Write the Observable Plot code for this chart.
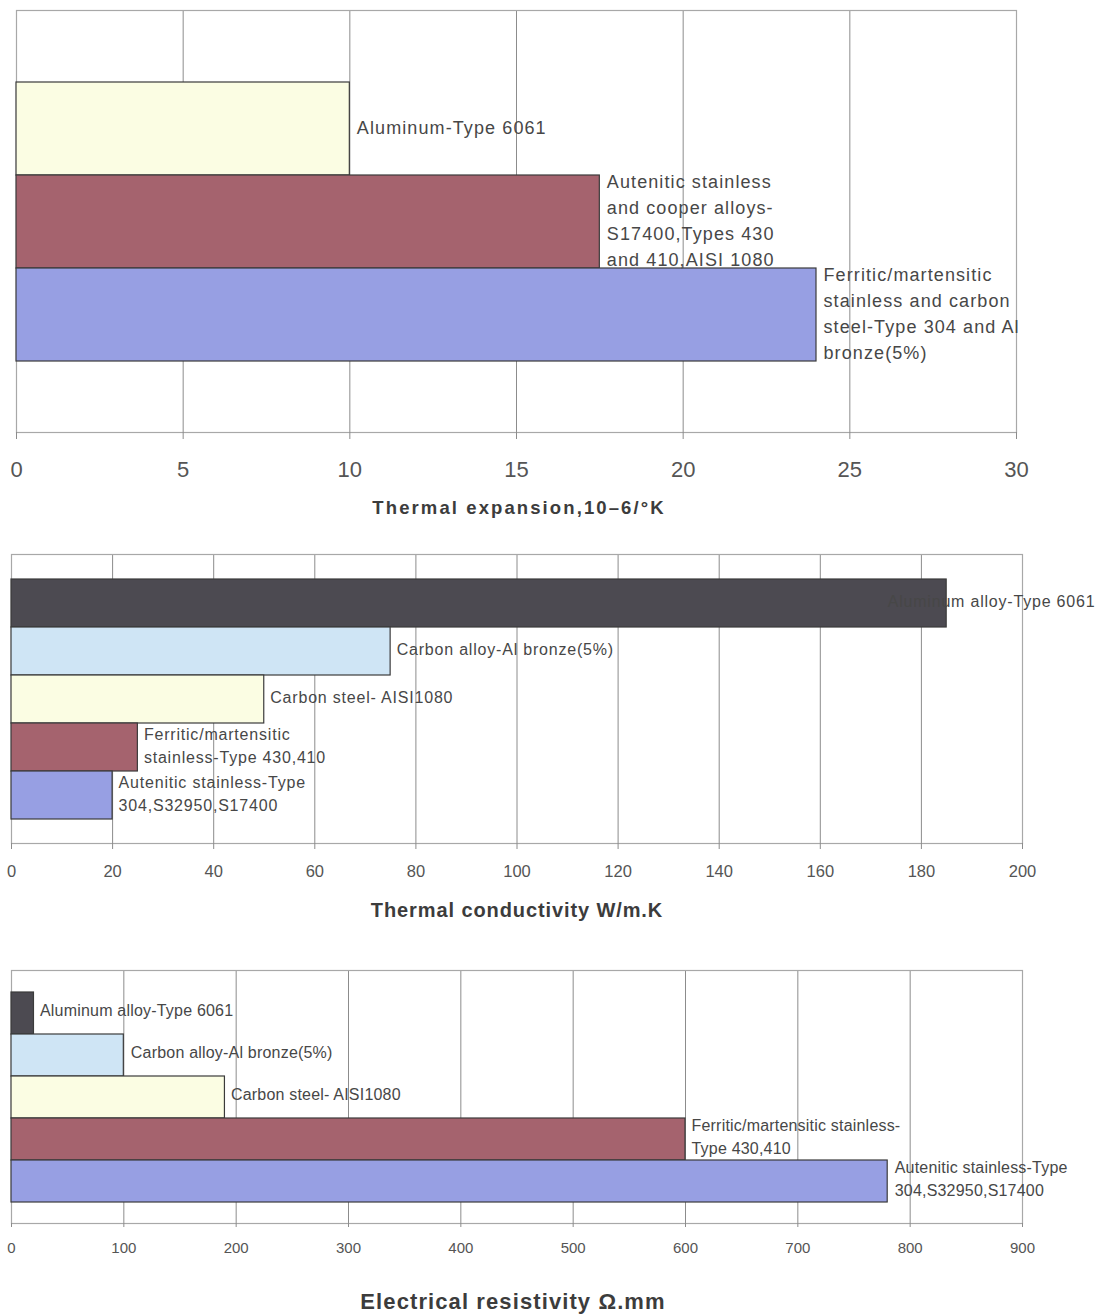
<!DOCTYPE html>
<html>
<head>
<meta charset="utf-8">
<script src="https://cdn.jsdelivr.net/npm/d3@7"></script>
<script src="https://cdn.jsdelivr.net/npm/@observablehq/plot@0.6"></script>
<style>
  html, body { margin: 0; padding: 0; background: #fff; }
  #page { position: relative; width: 1120px; height: 1314px; overflow: hidden; font-family: "Liberation Sans", Arial, sans-serif; }
  .panel { position: absolute; left: 0; }
  .axis-title { position: absolute; transform: translate(-50%, -50%); white-space: nowrap; font-weight: bold; color: #3c3c3c; }
  #c1 g[aria-label="text"] text { letter-spacing: 1.1px; }
  #c2 g[aria-label="text"] text { letter-spacing: 0.8px; }
  #c3 g[aria-label="text"] text { letter-spacing: 0.2px; }
</style>
</head>
<body>
<div id="page">
  <div class="panel" id="c1" style="top:0px"></div>
  <div class="axis-title" style="left:519px; top:508px; font-size:18.5px; letter-spacing:2.1px;">Thermal expansion,10–6/°K</div>
  <div class="panel" id="c2" style="top:520px"></div>
  <div class="axis-title" style="left:517px; top:910px; font-size:20px; letter-spacing:0.9px;">Thermal conductivity W/m.K</div>
  <div class="panel" id="c3" style="top:940px"></div>
  <div class="axis-title" style="left:513px; top:1302px; font-size:22px; letter-spacing:1.1px;">Electrical resistivity Ω.mm</div>
</div>
<script>
// Thermal expansion (10^-6 / K)
const expansionLabels = [
  "Aluminum-Type 6061",
  "Autenitic stainless\nand cooper alloys-\nS17400,Types 430\nand 410,AISI 1080",
  "Ferritic/martensitic\nstainless and carbon\nsteel-Type 304 and Al\nbronze(5%)"
];
const expansionValues = [10, 17.5, 24];
const expansionTicks = [0, 5, 10, 15, 20, 25, 30];

// Thermal conductivity (W/m.K)
const conductivityLabels = [
  "Aluminum alloy-Type 6061",
  "Carbon alloy-Al bronze(5%)",
  "Carbon steel- AISI1080",
  "Ferritic/martensitic\nstainless-Type 430,410",
  "Autenitic stainless-Type\n304,S32950,S17400"
];
const conductivityValues = [185, 75, 50, 25, 20];
const conductivityTicks = [0, 20, 40, 60, 80, 100, 120, 140, 160, 180, 200];

// Electrical resistivity (Ω.mm)
const resistivityLabels = [
  "Aluminum alloy-Type 6061",
  "Carbon alloy-Al bronze(5%)",
  "Carbon steel- AISI1080",
  "Ferritic/martensitic stainless-\nType 430,410",
  "Autenitic stainless-Type\n304,S32950,S17400"
];
const resistivityValues = [20, 100, 190, 600, 780];
const resistivityTicks = [0, 100, 200, 300, 400, 500, 600, 700, 800, 900];

// Fill colours
const DARK = "#4c4a51", LIGHTBLUE = "#cfe5f5", CREAM = "#fbfde3", PLUM = "#a5636e", PERIWINKLE = "#979fe3";
const expansionFills = [CREAM, PLUM, PERIWINKLE];
const fiveFills = [DARK, LIGHTBLUE, CREAM, PLUM, PERIWINKLE];

function barPanel({labels, values, fills, ticks, domainMax, height, mTop, mBottom, mLeft, mRight,
                   padOuter, tickFont, tickSize, tickPadding, labelFont, lineHeight, labelDx, labelDy}) {
  const rows = labels.map((label, i) => ({key: i, label, value: values[i], fill: fills[i], dx: labelDx[i]}));
  return Plot.plot({
    width: 1120,
    height,
    marginTop: mTop,
    marginBottom: mBottom,
    marginLeft: mLeft,
    marginRight: mRight,
    style: {fontFamily: "'Liberation Sans', Arial, sans-serif", background: "transparent", overflow: "visible"},
    x: {domain: [0, domainMax], ticks},
    y: {type: "band", domain: rows.map(d => d.key), paddingInner: 0, paddingOuter: padOuter, align: 0.5, axis: null},
    color: {type: "identity"},
    marks: [
      Plot.gridX(ticks, {stroke: "#8c8c8c", strokeOpacity: 1, strokeWidth: 1}),
      Plot.frame({stroke: "#a8a8a8", strokeWidth: 1.2}),
      Plot.barX(rows, {x: "value", y: "key", fill: "fill", stroke: "#3b3b3b", strokeWidth: 1.2, insetTop: 0, insetBottom: 0}),
      ...rows.map(d => Plot.text([d], {
        x: "value", y: "key", text: "label",
        textAnchor: "start", lineAnchor: "middle", lineHeight,
        dx: d.dx, dy: labelDy, fontSize: labelFont, fill: "#474747"
      })),
      Plot.axisX({ticks, tickSize, tickPadding, fontSize: tickFont, stroke: "#8c8c8c", color: "#555", label: null})
    ]
  });
}

document.getElementById("c1").append(barPanel({
  labels: expansionLabels, values: expansionValues, fills: expansionFills, ticks: expansionTicks, domainMax: 30,
  height: 490, mTop: 10, mBottom: 58, mLeft: 16, mRight: 104, padOuter: 0.745,
  tickFont: 22, tickSize: 7, tickPadding: 22, labelFont: 18, lineHeight: 1.44,
  labelDx: [7, 7, 7], labelDy: -3.5
}));

document.getElementById("c2").append(barPanel({
  labels: conductivityLabels, values: conductivityValues, fills: fiveFills, ticks: conductivityTicks, domainMax: 200,
  height: 370, mTop: 34, mBottom: 47, mLeft: 11, mRight: 98, padOuter: 0.5,
  tickFont: 16.5, tickSize: 6, tickPadding: 16, labelFont: 16, lineHeight: 1.45,
  labelDx: [-59, 6, 6, 6, 6], labelDy: -3.5
}));

document.getElementById("c3").append(barPanel({
  labels: resistivityLabels, values: resistivityValues, fills: fiveFills, ticks: resistivityTicks, domainMax: 900,
  height: 330, mTop: 30, mBottom: 47, mLeft: 11, mRight: 98, padOuter: 0.5,
  tickFont: 15, tickSize: 4, tickPadding: 15, labelFont: 16, lineHeight: 1.45,
  labelDx: [6, 7, 6, 6, 7], labelDy: -4.5
}));
</script>
</body>
</html>
